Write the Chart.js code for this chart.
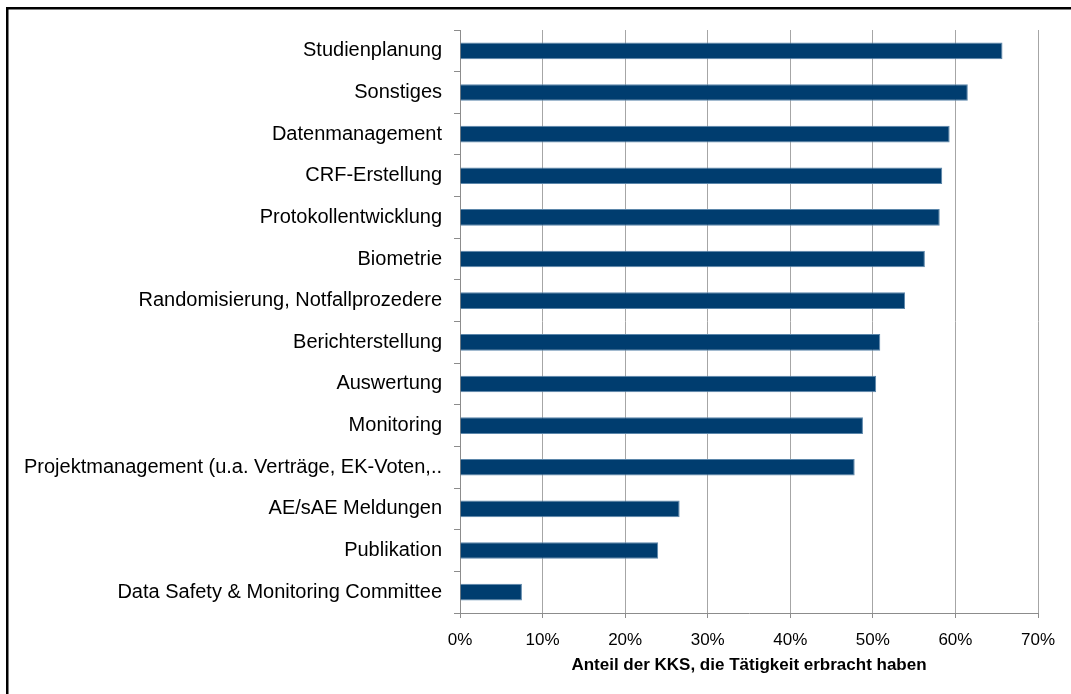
<!DOCTYPE html>
<html>
<head>
<meta charset="utf-8">
<script src="https://cdn.jsdelivr.net/npm/chart.js@4/dist/chart.umd.min.js"></script>
<style>
    html, body { margin: 0; padding: 0; background: #fff; }
    #wrap { width: 1071px; height: 694px; }
</style>
</head>
<body>
<div id="wrap"><canvas id="chart" width="1071" height="694"></canvas></div>
<script>
// =========================
// DATA
// =========================
const categories = [
    'Studienplanung',
    'Sonstiges',
    'Datenmanagement',
    'CRF-Erstellung',
    'Protokollentwicklung',
    'Biometrie',
    'Randomisierung, Notfallprozedere',
    'Berichterstellung',
    'Auswertung',
    'Monitoring',
    'Projektmanagement (u.a. Verträge, EK-Voten,..',
    'AE/sAE Meldungen',
    'Publikation',
    'Data Safety & Monitoring Committee'
];

const shares = [65.7, 61.5, 59.3, 58.4, 58.1, 56.3, 53.9, 50.9, 50.4, 48.8, 47.8, 26.6, 24.0, 7.5];

const axisTitle = 'Anteil der KKS, die Tätigkeit erbracht haben';

// =========================
// FRAME (only top/left edge visible in the picture)
// =========================
const framePlugin = {
    id: 'frame',
    afterDraw(chart) {
        const ctx = chart.ctx;
        ctx.save();
        ctx.strokeStyle = '#000';
        ctx.lineWidth = 2.5;
        ctx.strokeRect(7.25, 8.25, 1200, 800);
        ctx.restore();
    }
};

// =========================
// CHART
// =========================
Chart.defaults.font.family = '"Liberation Sans", Arial, sans-serif';
Chart.defaults.color = '#000';

new Chart(document.getElementById('chart').getContext('2d'), {
    type: 'bar',
    data: {
        labels: categories,
        datasets: [{
            data: shares,
            backgroundColor: '#003d6f',
            borderColor: '#5b86aa',
            borderWidth: 1,
            borderSkipped: 'start',
            barPercentage: 0.8,
            categoryPercentage: 0.5
        }]
    },
    options: {
        indexAxis: 'y',
        responsive: false,
        animation: false,
        layout: { padding: { left: 10, right: 33, top: 30, bottom: 18 } },
        plugins: {
            legend: { display: false },
            tooltip: { enabled: false }
        },
        scales: {
            x: {
                min: 0,
                max: 70,
                ticks: {
                    stepSize: 10,
                    callback: v => v + '%',
                    font: { size: 17 },
                    padding: 12,
                    maxRotation: 0
                },
                grid: {
                    color: '#a6a6a6',
                    lineWidth: 1,
                    tickLength: 5,
                    tickColor: '#8c8c8c'
                },
                border: { color: '#8c8c8c' },
                title: {
                    display: true,
                    text: axisTitle,
                    font: { size: 17, weight: 'bold' },
                    padding: { top: 6, bottom: 0 }
                },
                afterFit: s => { s.height = 63; }
            },
            y: {
                ticks: {
                    font: { size: 20 },
                    padding: 12,
                    autoSkip: false
                },
                grid: {
                    display: true,
                    drawOnChartArea: false,
                    offset: true,
                    tickLength: 6,
                    tickColor: '#8c8c8c'
                },
                border: { color: '#8c8c8c' },
                afterFit: s => { s.width = 450; }
            }
        }
    },
    plugins: [framePlugin]
});
</script>
</body>
</html>
